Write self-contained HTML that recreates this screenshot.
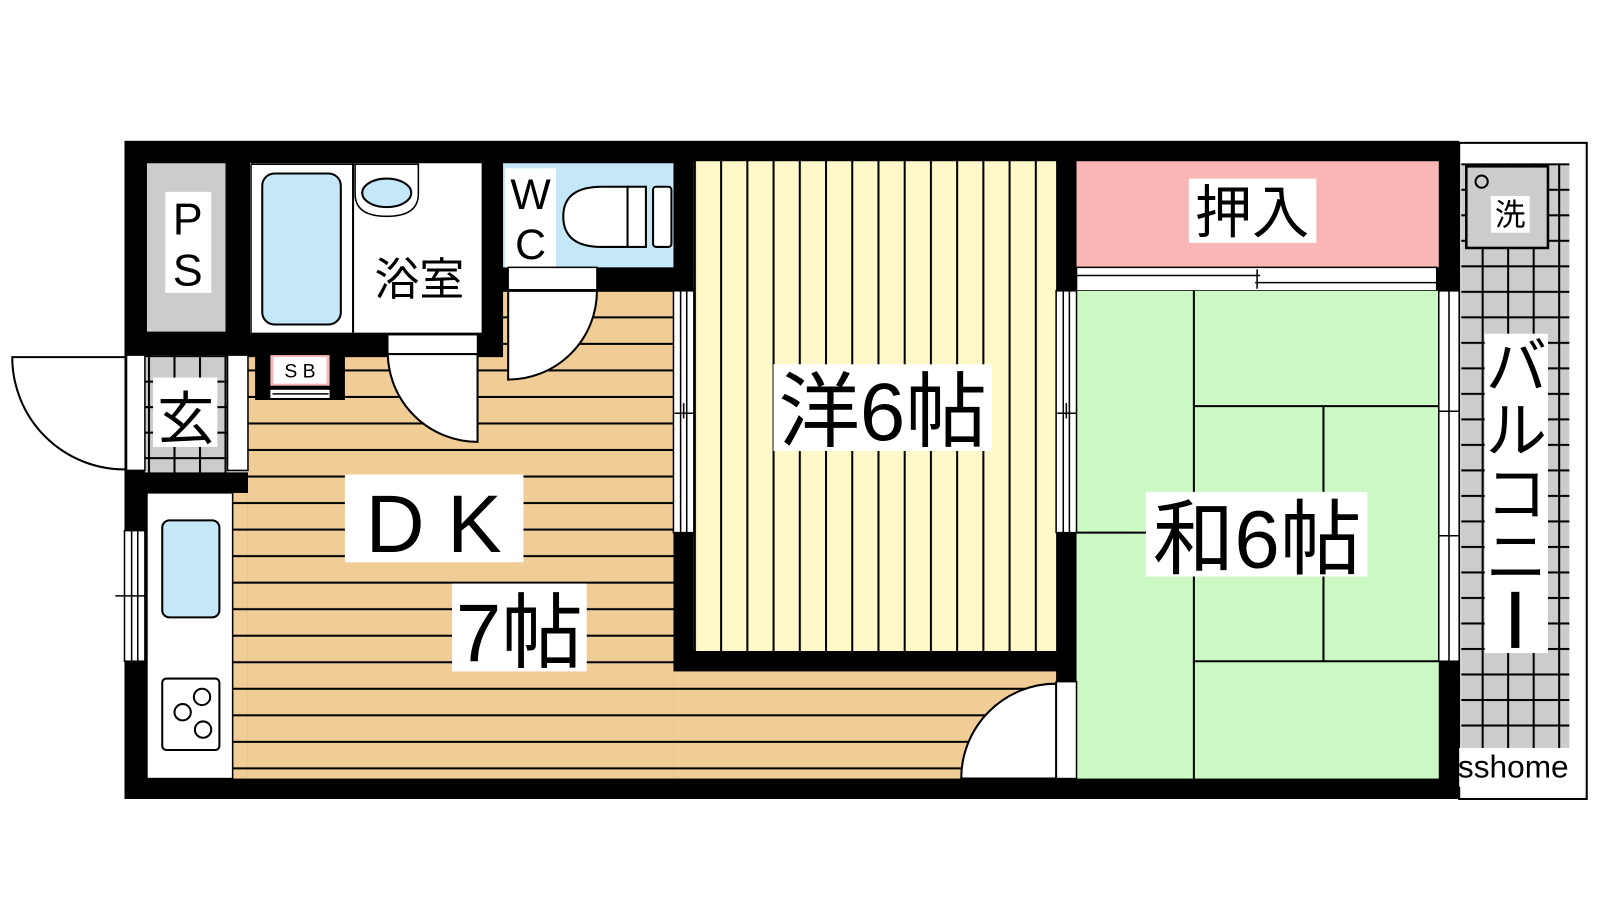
<!DOCTYPE html>
<html><head><meta charset="utf-8"><style>
html,body{margin:0;padding:0;background:#fff;}
svg{display:block}
text{font-family:"Liberation Sans","Noto Sans CJK JP",sans-serif;fill:#000}
</style></head><body>
<svg width="1600" height="900" viewBox="0 0 1568 882" preserveAspectRatio="none" xmlns="http://www.w3.org/2000/svg">
<defs>
<pattern id="hl" x="0" y="0" width="20" height="26" patternUnits="userSpaceOnUse">
<rect width="20" height="26" fill="#f0cc96"/><rect y="24" width="20" height="2.2" fill="#000"/></pattern>
<pattern id="vl" x="680" y="0" width="25.7" height="20" patternUnits="userSpaceOnUse">
<rect width="26" height="20" fill="#fff8c8"/><rect x="0" width="2" height="20" fill="#000"/></pattern>
<pattern id="grid" x="1452" y="160" width="25" height="25" patternUnits="userSpaceOnUse">
<rect width="25" height="25" fill="#cccccc"/><rect width="2" height="25" fill="#000"/><rect width="25" height="2" fill="#000"/></pattern>
<pattern id="grid2" x="145" y="348" width="25" height="25" patternUnits="userSpaceOnUse">
<rect width="25" height="25" fill="#cccccc"/><rect width="2" height="25" fill="#000"/><rect width="25" height="2" fill="#000"/></pattern>
</defs>

<rect x="1430" y="140" width="125" height="643" fill="#fff" stroke="#000" stroke-width="2"/>
<rect x="1432" y="160" width="106" height="605" fill="url(#grid)"/>
<rect x="1437" y="163" width="80" height="80" fill="#ccc" stroke="#000" stroke-width="2.5"/>
<circle cx="1452" cy="178" r="6" fill="none" stroke="#000" stroke-width="2"/>
<rect x="1461" y="192" width="38" height="36" fill="#fff"/>
<text x="1480" y="221" font-size="30" text-anchor="middle">洗</text>
<rect x="1455" y="327" width="62" height="313" fill="#fff"/>
<text x="1486" y="380" font-size="60" text-anchor="middle">バ</text>
<text x="1486" y="443" font-size="60" text-anchor="middle">ル</text>
<text x="1486" y="505" font-size="60" text-anchor="middle">コ</text>
<text x="1486" y="567" font-size="60" text-anchor="middle">ニ</text>
<rect x="1481" y="580" width="8" height="55" fill="#000"/>
<rect x="1427" y="733" width="113" height="38" fill="#fff"/>
<text x="1483" y="762" font-size="31" text-anchor="middle">sshome</text>

<rect x="122" y="138" width="1308" height="645" fill="#000"/>

<rect x="243" y="350" width="417" height="413" fill="url(#hl)"/>
<rect x="228" y="483" width="15" height="280" fill="url(#hl)"/>
<rect x="493" y="285" width="167" height="67" fill="url(#hl)"/>
<rect x="660" y="658" width="375" height="105" fill="url(#hl)"/>

<rect x="144" y="160" width="77" height="165" fill="#ccc"/>
<rect x="162" y="188" width="45" height="99" fill="#fff"/>
<text x="184" y="230" font-size="44" text-anchor="middle">P</text>
<text x="184" y="280" font-size="44" text-anchor="middle">S</text>

<rect x="245" y="160" width="227" height="166" fill="#fff"/>
<line x1="246" y1="161" x2="410" y2="161" stroke="#000" stroke-width="1.5"/>
<line x1="246" y1="161" x2="246" y2="326" stroke="#000" stroke-width="1.5"/>
<rect x="257" y="170" width="77" height="148" rx="12" fill="#c4e8f8" stroke="#000" stroke-width="2"/>
<line x1="346" y1="160" x2="346" y2="326" stroke="#000" stroke-width="2"/>
<path d="M348 161 L410 161 L410 190 Q410 212 379 212 Q348 212 348 190 Z" fill="#fff" stroke="#000" stroke-width="1.5"/>
<ellipse cx="379" cy="189" rx="24" ry="14" fill="#c4e8f8" stroke="#000" stroke-width="2"/>
<text x="411" y="289" font-size="44" text-anchor="middle">浴室</text>

<rect x="493" y="160" width="167" height="102" fill="#c4e8f8"/>
<rect x="495" y="165" width="50" height="97" fill="#fff"/>
<text x="520" y="205" font-size="42" text-anchor="middle">W</text>
<text x="520" y="254" font-size="42" text-anchor="middle">C</text>
<path d="M615 183 L590 183 Q552 183 552 212 Q552 242 590 242 L615 242 Z" fill="#fff" stroke="#000" stroke-width="2"/>
<rect x="615" y="183" width="18" height="59" fill="#fff" stroke="#000" stroke-width="2"/>
<rect x="640" y="183" width="18" height="59" rx="3" fill="#fff" stroke="#000" stroke-width="2"/>

<rect x="680" y="158" width="355" height="480" fill="url(#vl)"/>
<rect x="758" y="357" width="214" height="85" fill="#fff"/>
<text x="865" y="431" font-size="80" text-anchor="middle">洋6帖</text>

<rect x="1055" y="158" width="355" height="104" fill="#f8b6b6"/>
<rect x="1165" y="175" width="125" height="63" fill="#fff"/>
<text x="1227" y="228" font-size="56" text-anchor="middle">押入</text>
<rect x="1055" y="262" width="353" height="23" fill="#fff" stroke="#000" stroke-width="1.5"/>
<line x1="1055" y1="270" x2="1235" y2="270" stroke="#000" stroke-width="1.5"/>
<line x1="1230" y1="277" x2="1408" y2="277" stroke="#000" stroke-width="1.5"/>
<line x1="1232" y1="264" x2="1232" y2="283" stroke="#000" stroke-width="1.5"/>

<rect x="1055" y="285" width="355" height="478" fill="#ccf8c4"/>
<g stroke="#000" stroke-width="2">
<line x1="1170" y1="285" x2="1170" y2="763"/>
<line x1="1170" y1="398" x2="1410" y2="398"/>
<line x1="1170" y1="648" x2="1410" y2="648"/>
<line x1="1297" y1="398" x2="1297" y2="648"/>
<line x1="1055" y1="522" x2="1170" y2="522"/>
</g>
<rect x="1123" y="482" width="217" height="83" fill="#fff"/>
<text x="1232" y="556" font-size="80" text-anchor="middle">和6帖</text>

<g fill="#fff" stroke="#000" stroke-width="1.5">
<rect x="660" y="285" width="20" height="237"/>
<rect x="1035" y="285" width="20" height="237"/>
<rect x="1410" y="285" width="20" height="363"/>
<rect x="122" y="520" width="20" height="128"/>
</g>
<g stroke="#000" stroke-width="1.5">
<line x1="667" y1="285" x2="667" y2="522"/><line x1="673" y1="285" x2="673" y2="522"/>
<line x1="661" y1="405" x2="680" y2="405"/><line x1="670" y1="395" x2="670" y2="410"/>
<line x1="1042" y1="285" x2="1042" y2="522"/><line x1="1048" y1="285" x2="1048" y2="522"/>
<line x1="1036" y1="405" x2="1055" y2="405"/><line x1="1045" y1="395" x2="1045" y2="410"/>
<line x1="1420" y1="285" x2="1420" y2="648"/>
<line x1="1410" y1="403" x2="1430" y2="403"/><line x1="1410" y1="525" x2="1430" y2="525"/>
<line x1="129" y1="520" x2="129" y2="648"/><line x1="135" y1="520" x2="135" y2="648"/>
<line x1="113" y1="584" x2="152" y2="584"/>
</g>

<rect x="142" y="348" width="101" height="115" fill="url(#grid2)"/>
<rect x="124" y="348" width="18" height="113" fill="#fff" stroke="#000" stroke-width="1.5"/>
<rect x="223" y="348" width="20" height="113" fill="#fff" stroke="#000" stroke-width="1.5"/>
<rect x="150" y="370" width="63" height="68" fill="#fff"/>
<text x="182" y="430" font-size="56" text-anchor="middle">玄</text>
<path d="M122 350 L12 350 A110 110 0 0 0 122 460" fill="#fff" stroke="#000" stroke-width="2"/>
<rect x="122" y="463" width="121" height="20" fill="#000"/>

<rect x="144" y="483" width="84" height="280" fill="#fff" stroke="#000" stroke-width="1.5"/>
<rect x="159" y="510" width="56" height="95" rx="7" fill="#c4e8f8" stroke="#000" stroke-width="2"/>
<rect x="159" y="665" width="56" height="70" rx="4" fill="#fff" stroke="#000" stroke-width="2"/>
<g fill="none" stroke="#000" stroke-width="2"><circle cx="198" cy="683" r="8"/><circle cx="179" cy="698" r="8"/><circle cx="199" cy="715" r="8"/></g>

<rect x="250" y="345" width="88" height="47" fill="#000"/>
<rect x="265" y="348" width="58" height="30" fill="#f8b6b6"/>
<rect x="268" y="350" width="52" height="26" fill="#fff"/>
<text x="294" y="370" font-size="19" text-anchor="middle">S B</text>
<rect x="265" y="382" width="58" height="8" fill="#fff"/>
<line x1="267" y1="386" x2="322" y2="386" stroke="#000" stroke-width="1.5"/>

<rect x="380" y="328" width="88" height="19" fill="#fff" stroke="#000" stroke-width="1.5"/>
<path d="M380 347 A88 88 0 0 0 468 433 L468 347 Z" fill="#fff" stroke="#000" stroke-width="2"/>
<rect x="498" y="262" width="87" height="22" fill="#fff" stroke="#000" stroke-width="1.5"/>
<path d="M585 285 A87 87 0 0 1 498 372 L498 285 Z" fill="#fff" stroke="#000" stroke-width="2"/>
<rect x="1035" y="668" width="20" height="95" fill="#fff" stroke="#000" stroke-width="1.5"/>
<path d="M942 763 A93 93 0 0 1 1035 670 L1035 763 Z" fill="#fff" stroke="#000" stroke-width="2"/>

<rect x="338" y="465" width="175" height="86" fill="#fff"/>
<text x="425" y="541" font-size="80" text-anchor="middle">D K</text>
<rect x="443" y="572" width="132" height="86" fill="#fff"/>
<text x="509" y="648" font-size="80" text-anchor="middle">7帖</text>
</svg>
</body></html>
